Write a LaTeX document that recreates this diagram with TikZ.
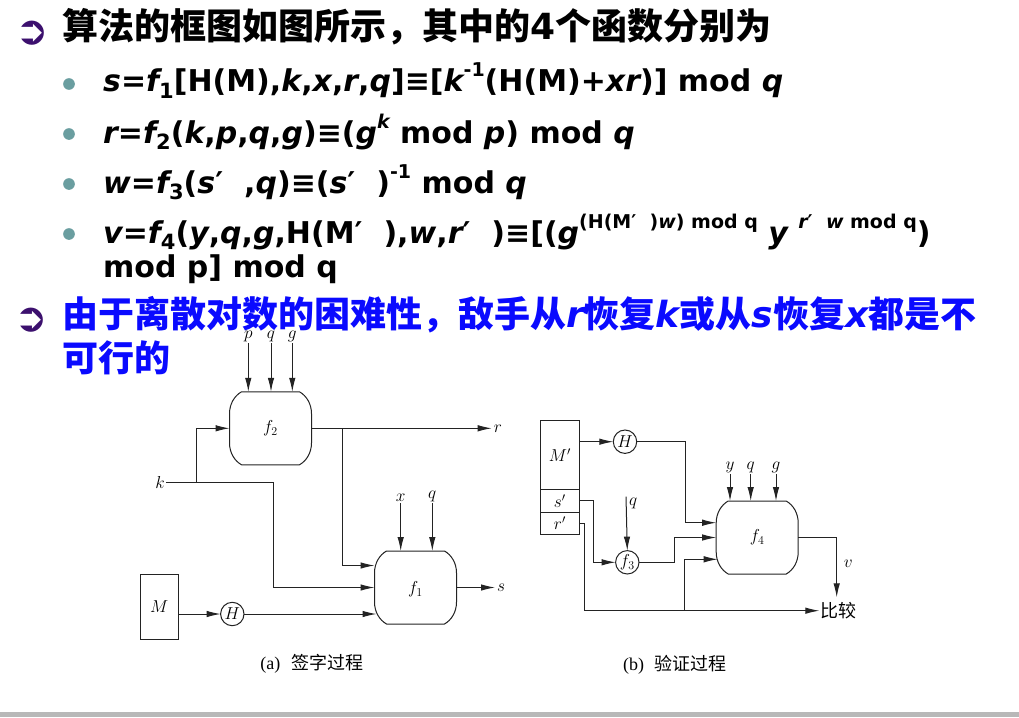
\documentclass[tikz,border=0pt]{standalone}
\usepackage{fontspec}
\usetikzlibrary{arrows.meta,calc}
\newfontfamily\dv{DejaVu Sans}
\newfontfamily\cjk{Noto Sans CJK SC}
\newfontfamily\tms{Liberation Serif}
\definecolor{tealb}{RGB}{106,158,160}
\definecolor{purp}{RGB}{60,16,110}
\definecolor{blu}{RGB}{10,10,255}
\definecolor{barg}{RGB}{184,184,184}
\definecolor{ln}{RGB}{35,35,35}
\newcommand\It[1]{{\itshape #1}}
\newcommand\sps[1]{\raisebox{0.5em}{\fontsize{19}{20}\selectfont #1}}
\newcommand\sbs[1]{\raisebox{-0.22em}{\fontsize{21}{22}\selectfont #1}}
\newcommand\fshape[1]{%
 \draw[fl] ([xshift=12pt]#1.north west) -- ([xshift=-12pt]#1.north east)
 .. controls +(7pt,-4pt) and +(0pt,10pt) .. ([yshift=-22pt]#1.north east)
 -- ([yshift=22pt]#1.south east)
 .. controls +(0pt,-10pt) and +(7pt,4pt) .. ([xshift=-12pt]#1.south east)
 -- ([xshift=12pt]#1.south west)
 .. controls +(-7pt,4pt) and +(0pt,-10pt) .. ([yshift=22pt]#1.south west)
 -- ([yshift=-22pt]#1.north west)
 .. controls +(0pt,10pt) and +(-7pt,-4pt) .. cycle;}
\begin{document}
\begin{tikzpicture}[x=1pt,y=-1pt,
  fl/.style={line width=1pt, draw=ln},
  arr/.style={fl, -{Latex[length=14pt,width=6.5pt]}},
  fbox/.style={minimum width=82pt, minimum height=73pt, inner sep=0pt, outer sep=0pt},
  crc/.style={circle, draw=ln, line width=1pt, minimum size=23.4pt, inner sep=0pt, outer sep=0pt, font=\fontsize{17}{20}\selectfont},
  lbl/.style={inner sep=1pt, font=\fontsize{17}{20}\selectfont},
  bx/.style={draw=ln, line width=1pt, minimum width=38.3pt, inner sep=0pt, outer sep=0pt, font=\fontsize{17}{20}\selectfont},
  tl/.style={anchor=base west, inner sep=0pt},
  fm/.style={tl, font=\dv\bfseries\fontsize{30}{34}\selectfont},
  dot/.style={circle, fill=tealb, minimum size=11.7pt, inner sep=0pt},
  arw/.style={inner sep=0pt, text=purp, font=\dv\bfseries\fontsize{40}{42}\selectfont},
  captxt/.style={inner sep=0pt, font=\fontsize{18}{20}\selectfont}]
\useasboundingbox (0,0) rectangle (1019,717);
\fill[white] (0,0) rectangle (1019,717);
\fill[barg] (0,712) rectangle (1019,717);

% ---------------- diagram (a)
\node[fbox] (f2) at (270.5,428.3) {};
\fshape{f2}
\node[lbl] at (f2.center) {$f_2$};
\node[fbox] (f1) at (415.5,587.5) {};
\fshape{f1}
\node[lbl] at ([yshift=-2pt]f1.center) {$f_1$};

\node[lbl, anchor=south] (p) at (248.3,343) {$p$};
\node[lbl, anchor=south] (q) at (271,343) {$q$};
\node[lbl, anchor=south] (g) at (292.3,343) {$g$};
\draw[arr] (p.south) -- (p.south |- f2.north);
\draw[arr] (q.south) -- (q.south |- f2.north);
\draw[arr] (g.south) -- (g.south |- f2.north);

\node[lbl, anchor=west, inner sep=2pt] (r) at (491.7,428.3) {$r$};
\draw[arr] (f2.east) -- (r.west);

\node[lbl] (k) at (160,482.3) {$k$};
\coordinate (kj) at (196,482.3);
\coordinate (kb) at (273.3,482.3);
\coordinate (rj) at (342.3,428.3);
\draw[arr] (k.east) -- (kb) |- (f1.west);
\draw[arr] (kj) |- (f2.west);
\draw[arr] (rj) |- ([yshift=22pt]f1.west);

\node[lbl, anchor=south] (x) at (400.7,503) {$x$};
\node[lbl, anchor=south] (q1) at (432.3,503) {$q$};
\draw[arr] (x.south) -- (x.south |- f1.north);
\draw[arr] (q1.south) -- (q1.south |- f1.north);

\node[lbl, anchor=west, inner sep=2pt] (s) at (495,587.5) {$s$};
\draw[arr] (f1.east) -- (s.west);

\node[bx, minimum height=65pt] (M) at (159.2,606.5) {$M$};
\node[crc] (H) at (232.3,614) {$H$};
\draw[arr] (M.east |- H) -- (H.west);
\draw[arr] (H.east) -- ([xshift=2pt,yshift=-26.5pt]f1.west);

\node[captxt] (capa) at (311.7,663.3) {\tms (a)\hspace{0.6em}\cjk 签字过程};

% ---------------- diagram (b)
\node[bx, minimum height=68.6pt] (Mp) at (559.85,455) {$M'$};
\node[bx, minimum height=23pt, anchor=north] (sp) at (Mp.south) {$s'$};
\node[bx, minimum height=21.7pt, anchor=north] (rp) at (sp.south) {$r'$};

\node[fbox] (f4) at (757.2,537.5) {};
\fshape{f4}
\node[lbl] at (f4.center) {$f_4$};

\node[crc] (H2) at (625,441.7) {$H$};
\node[crc] (f3) at (627.3,562.3) {$f_3$};

\draw[arr] (Mp.east |- H2) -- (H2.west);
\coordinate (hb) at (685,441.7);
\draw[arr] (H2.east) -- (hb) |- ([yshift=14.8pt]f4.west);

\coordinate (sb) at (593.3,500.8);
\draw[arr] (sp.east) -- (sb) |- (f3.west);

\coordinate (q3top) at (626,496.7);
\node[lbl, anchor=west] (q3) at (628,503.3) {$q$};
\draw[arr] (q3top) -- (f3.north);

\coordinate (fb) at (674,562.3);
\draw[arr] (f3.east) -- (fb) |- (f4.west);

\node[captxt, anchor=west, inner sep=1pt] (cmp) at (819.3,610.7) {\cjk 比较};
\coordinate (rb) at (584,523.15);
\draw[arr] (rp.east) -- (rb) |- (cmp.west);
\coordinate (rj2) at (684.3,610.7);
\draw[arr] (rj2) |- ([xshift=1.5pt,yshift=-21.8pt]f4.west);

\node[lbl, anchor=south] (y4) at (730,474) {$y$};
\node[lbl, anchor=south] (q4) at (750.7,474) {$q$};
\node[lbl, anchor=south] (g4) at (776,474) {$g$};
\draw[arr] (y4.south) -- (y4.south |- f4.north);
\draw[arr] (q4.south) -- (q4.south |- f4.north);
\draw[arr] (g4.south) -- (g4.south |- f4.north);

\coordinate (vb) at (836.7,537.5);
\coordinate (vend) at (836.7,597.3);
\node[lbl] (v) at (848.3,563.3) {$v$};
\draw[arr] (f4.east) -- (vb) -- (vend);

\node[captxt] (capb) at (675,665) {\tms (b)\hspace{0.6em}\cjk 验证过程};

% ---------------- text
\node[arw] (a1) at (32,33) {➲};
\node[tl] (t1) at (62,40) {\fontsize{36}{40}\selectfont\cjk\bfseries 算法的框图如图所示，其中的{\dv\bfseries 4}个函数分别为};

\node[dot] (d1) at (69,84) {};
\node[fm] (e1) at (103,92) {\It{s}=\It{f}\sbs{1}[H(M),\It{k},\It{x},\It{r},\It{q}]≡[\It{k}\sps{-1}(H(M)+\It{xr})] mod \It{q}};
\node[dot] (d2) at (69,134) {};
\node[fm] (e2) at (103,143) {\It{r}=\It{f}\sbs{2}(\It{k},\It{p},\It{q},\It{g})≡(\It{g}\sps{\It{k}} mod \It{p}) mod \It{q}};
\node[dot] (d3) at (69,184) {};
\node[fm] (e3) at (103,193) {\It{w}=\It{f}\sbs{3}(\It{s}′\hspace{0.7em},\It{q})≡(\It{s}′\hspace{0.7em})\sps{-1} mod \It{q}};
\node[dot] (d4) at (69,234) {};
\node[fm] (e4) at (103,243) {\It{v}=\It{f}\sbs{4}(\It{y},\It{q},\It{g},H(M′\hspace{0.7em}),\It{w},\It{r}′\hspace{0.7em})≡[(\It{g}\sps{(H(M′\hspace{0.7em})\It{w}) mod q} \It{y} \sps{\It{r}′\hspace{0.7em}\It{w} mod q})};
\node[fm] (e5) at (103,277) {mod p] mod q};

\node[arw] (a2) at (31.5,320) {➲};
\node[tl, text=blu] (t2) at (62,327) {\fontsize{36}{40}\selectfont\cjk\bfseries 由于离散对数的困难性，敌手从{\dv\bfseries\itshape r}恢复{\dv\bfseries\itshape k}或从{\dv\bfseries\itshape s}恢复{\dv\bfseries\itshape x}都是不};
\node[tl, text=blu] (t3) at (62,371) {\fontsize{36}{40}\selectfont\cjk\bfseries 可行的};
\end{tikzpicture}
\end{document}
